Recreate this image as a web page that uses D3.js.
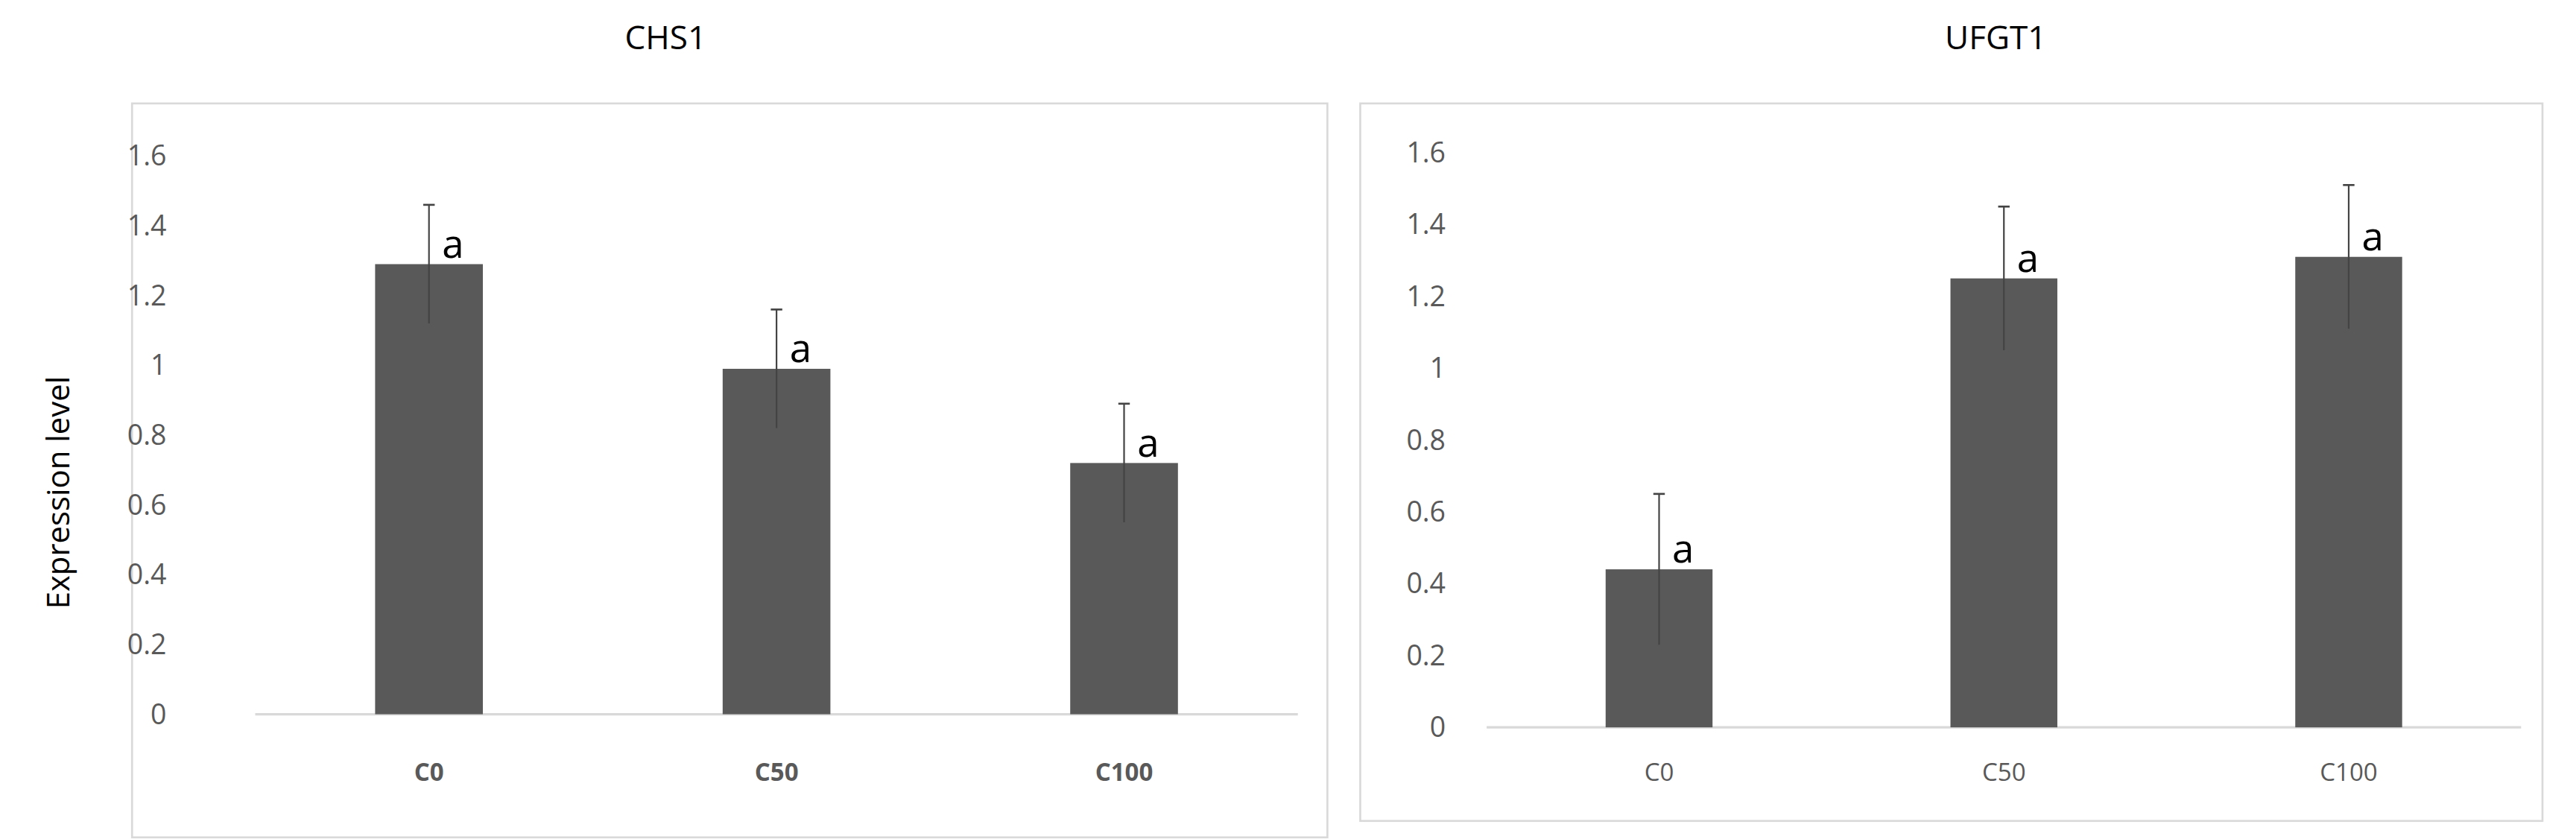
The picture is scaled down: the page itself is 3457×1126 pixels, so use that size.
<!DOCTYPE html>
<html><head><meta charset="utf-8">
<script src="https://cdn.jsdelivr.net/npm/d3@7/dist/d3.min.js"></script>
<style>body{margin:0;background:#fff}</style></head>
<body><svg id="c"></svg>
<script>
const categories = ["C0","C50","C100"];
const chs1Values = [1.29, 0.99, 0.72];
const chs1Errors = [0.17, 0.17, 0.17];
const ufgt1Values = [0.44, 1.25, 1.31];
const ufgt1Errors = [0.21, 0.20, 0.20];
const yTicks = [0,0.2,0.4,0.6,0.8,1,1.2,1.4,1.6];
const letters = ["a","a","a"];

const svg = d3.select("#c").attr("width",3457).attr("height",1126).attr("viewBox","0 0 1568 511");
const font = "'Open Sans', 'Liberation Sans', sans-serif";

function panel(cfg){
  const g = svg.append("g");
  g.append("rect").attr("x",cfg.box[0]).attr("y",cfg.box[1]).attr("width",cfg.box[2]).attr("height",cfg.box[3])
    .attr("fill","none").attr("stroke","#d9d9d9").attr("stroke-width",1.2);
  g.append("text").attr("x",cfg.titleX).attr("y",30).attr("text-anchor","middle")
    .attr("font-family",font).attr("font-size",20).attr("fill","#000").text(cfg.title);
  const x = d3.scaleBand().domain(categories).range([cfg.x0,cfg.x1]).paddingInner(0.69).paddingOuter(0.345);
  const y = d3.scaleLinear().domain([0,1.6]).range([cfg.y0,cfg.y1]);
  g.append("line").attr("x1",cfg.x0).attr("x2",cfg.x1).attr("y1",y(0)).attr("y2",y(0)).attr("stroke","#d9d9d9").attr("stroke-width",1.5);
  const ya = d3.axisLeft(y).tickValues(yTicks).tickFormat(d=>String(d)).tickSize(0).tickPadding(0);
  const yg = g.append("g").attr("transform",`translate(${cfg.tickX},0)`).call(ya);
  yg.select(".domain").remove();
  yg.selectAll("text").attr("font-family",font).attr("font-size",17).attr("fill","#595959");
  const xa = d3.axisBottom(x).tickSize(0).tickPadding(0);
  const xg = g.append("g").attr("transform",`translate(0,${cfg.catY})`).call(xa);
  xg.select(".domain").remove();
  xg.selectAll("text").attr("font-family",font).attr("font-size",15).attr("font-weight",cfg.bold?"bold":"normal").attr("fill","#595959");
  categories.forEach((c,i)=>{
    const v=cfg.values[i], e=cfg.errors[i], cx=x(c)+x.bandwidth()/2;
    g.append("rect").attr("x",x(c)).attr("width",x.bandwidth()).attr("y",y(v)).attr("height",y(0)-y(v)).attr("fill","#595959");
    g.append("line").attr("x1",cx).attr("x2",cx).attr("y1",y(v-e)).attr("y2",y(v+e)).attr("stroke","#444").attr("stroke-width",1);
    g.append("line").attr("x1",cx-3.5).attr("x2",cx+3.5).attr("y1",y(v+e)).attr("y2",y(v+e)).attr("stroke","#444").attr("stroke-width",1.2);
    g.append("text").attr("x",cx+8).attr("y",y(v)-4).attr("font-family",font).attr("font-size",24).attr("fill","#000").text(letters[i]);
  });
}
panel({box:[80,63,728,447],title:"CHS1",titleX:405,x0:155,x1:790,y0:435,y1:95,tickX:101,catY:465,values:chs1Values,errors:chs1Errors,bold:true});
panel({box:[828,63,720,437],title:"UFGT1",titleX:1215,x0:905,x1:1535,y0:443,y1:93,tickX:880,catY:465,values:ufgt1Values,errors:ufgt1Errors,bold:false});
svg.append("text").attr("transform","translate(42,300) rotate(-90)").attr("text-anchor","middle")
  .attr("font-family",font).attr("font-size",19).attr("fill","#000").text("Expression level");
</script></body></html>
